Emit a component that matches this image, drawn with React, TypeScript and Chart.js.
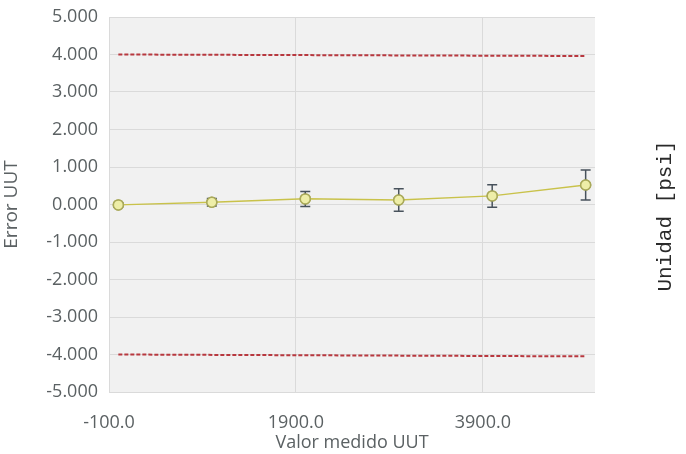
import React, { useEffect, useRef } from "react";
import { Chart, registerables } from "chart.js";

Chart.register(...registerables);

const xValues = [0, 1000, 2000, 3000, 4000, 5000];
const errValues = [-0.01, 0.06, 0.15, 0.12, 0.23, 0.52];
const uncValues = [0.05, 0.1, 0.2, 0.3, 0.3, 0.4];
const limitX = [0, 5000];
const upperLimit = [4.0, 3.96];
const lowerLimit = [-4.0, -4.05];
const xTicks = [-100, 1900, 3900];
const yMin = -5;
const yMax = 5;

const FONT = "'Open Sans', 'Liberation Sans', sans-serif";
const TEXT = "#5b6163";

const errorBarPlugin = {
  id: "errorBars",
  afterDatasetsDraw(chart: any) {
    const ctx = chart.ctx;
    const xs = chart.scales.x;
    const ys = chart.scales.y;
    ctx.save();
    ctx.strokeStyle = "#48525c";
    ctx.lineWidth = 1.5;
    xValues.forEach((xv, i) => {
      const px = xs.getPixelForValue(xv);
      const top = ys.getPixelForValue(errValues[i] + uncValues[i]);
      const bot = ys.getPixelForValue(errValues[i] - uncValues[i]);
      ctx.beginPath();
      ctx.moveTo(px, top);
      ctx.lineTo(px, bot);
      ctx.moveTo(px - 5, top);
      ctx.lineTo(px + 5, top);
      ctx.moveTo(px - 5, bot);
      ctx.lineTo(px + 5, bot);
      ctx.stroke();
    });
    const meta = chart.getDatasetMeta(0);
    meta.data.forEach((pt: any) => {
      ctx.beginPath();
      ctx.arc(pt.x, pt.y, 5, 0, Math.PI * 2);
      ctx.fillStyle = "#eeeea8";
      ctx.fill();
      ctx.strokeStyle = "#a9a95a";
      ctx.lineWidth = 1.5;
      ctx.stroke();
    });
    ctx.restore();
  },
};

const bgPlugin = {
  id: "plotBg",
  beforeDraw(chart: any) {
    const { ctx, chartArea } = chart;
    ctx.save();
    ctx.fillStyle = "#f1f1f1";
    ctx.fillRect(chartArea.left, chartArea.top, chartArea.right - chartArea.left, chartArea.bottom - chartArea.top);
    ctx.restore();
  },
};

const sideTitlePlugin = {
  id: "sideTitle",
  afterDraw(chart: any) {
    const ctx = chart.ctx;
    ctx.save();
    ctx.translate(665, 216);
    ctx.rotate(-Math.PI / 2);
    ctx.font = "21px 'Liberation Mono', 'DejaVu Sans Mono', monospace";
    ctx.fillStyle = "#2a2a2a";
    ctx.textAlign = "center";
    ctx.textBaseline = "middle";
    ctx.fillText("Unidad [psi]", 0, 0);
    ctx.restore();
  },
};

export default function App() {
  const ref = useRef<HTMLCanvasElement | null>(null);
  useEffect(() => {
    if (!ref.current) return;
    const chart = new Chart(ref.current, {
      type: "line",
      data: {
        datasets: [
          {
            label: "Error UUT",
            data: xValues.map((x, i) => ({ x, y: errValues[i] })),
            borderColor: "#c9c24a",
            borderWidth: 1.5,
            pointRadius: 5,
            pointBackgroundColor: "#eeeea8",
            pointBorderColor: "#a9a95a",
            pointBorderWidth: 1.5,
            tension: 0,
          },
          {
            label: "Límite superior",
            data: limitX.map((x, i) => ({ x, y: upperLimit[i] })),
            borderColor: "#b8383f",
            borderWidth: 2,
            borderDash: [4, 2],
            pointRadius: 0,
          },
          {
            label: "Límite inferior",
            data: limitX.map((x, i) => ({ x, y: lowerLimit[i] })),
            borderColor: "#b8383f",
            borderWidth: 2,
            borderDash: [4, 2],
            pointRadius: 0,
          },
        ],
      },
      options: {
        animation: false,
        responsive: false,
        layout: { padding: { top: 17, right: 91, left: 0, bottom: 0 } },
        plugins: { legend: { display: false }, tooltip: { enabled: false } },
        scales: {
          x: {
            type: "linear",
            min: -100,
            max: 5100,
            afterBuildTicks: (axis: any) => {
              axis.ticks = xTicks.map((v) => ({ value: v }));
            },
            afterFit: (axis: any) => {
              axis.height = 62;
              axis.paddingLeft = 0;
              axis.paddingRight = 0;
            },
            grid: { color: "#dadada", drawTicks: false },
            border: { display: false },
            ticks: {
              color: TEXT,
              font: { family: FONT, size: 18 },
              padding: 20,
              maxRotation: 0,
              callback: (v: any) => Number(v).toFixed(1),
            },
            title: {
              display: true,
              text: "Valor medido UUT",
              color: TEXT,
              font: { family: FONT, size: 18 },
              padding: { top: 0, bottom: 0 },
            },
          },
          y: {
            min: yMin,
            max: yMax,
            afterFit: (axis: any) => {
              axis.width = 109;
              axis.paddingTop = 0;
              axis.paddingBottom = 0;
            },
            grid: { color: "#dadada", drawTicks: false },
            border: { display: false },
            ticks: {
              stepSize: 1,
              color: TEXT,
              font: { family: FONT, size: 18 },
              padding: 11,
              callback: (v: any) => Number(v).toFixed(3),
            },
            title: {
              display: true,
              text: "Error UUT",
              color: TEXT,
              font: { family: FONT, size: 19 },
              padding: { top: 0, bottom: 2 },
            },
          },
        },
      },
      plugins: [bgPlugin, errorBarPlugin, sideTitlePlugin],
    });
    return () => chart.destroy();
  }, []);
  return (
    <div style={{ position: "fixed", left: 0, top: 0, width: 686, height: 454, background: "#fff" }}>
      <canvas ref={ref} width={686} height={454} style={{ display: "block", width: 686, height: 454 }} />
    </div>
  );
}
